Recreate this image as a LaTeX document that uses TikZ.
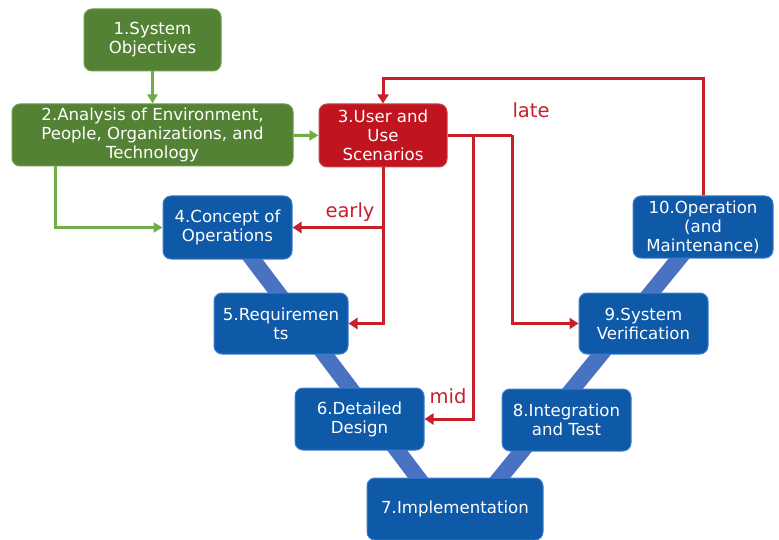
\documentclass[tikz,border=0pt]{standalone}
\usepackage{fontspec}
\setmainfont{DejaVu Sans}
\usetikzlibrary{arrows.meta,backgrounds,calc}
\definecolor{nblue}{HTML}{0F59A9}
\definecolor{nblueb}{HTML}{3C7FD0}
\definecolor{band}{HTML}{4A72C2}
\definecolor{ngreen}{HTML}{548235}
\definecolor{ngreenb}{HTML}{6E9E48}
\definecolor{lgreen}{HTML}{70AD47}
\definecolor{nred}{HTML}{C0151F}
\definecolor{lred}{HTML}{C8202A}
\tikzset{
  box/.style={rounded corners=8pt, align=center, text=white, inner sep=0pt,
    font=\fontsize{16.6}{19}\selectfont, line width=1pt},
  bluebox/.style={box, fill=nblue, draw=nblueb},
  greenbox/.style={box, fill=ngreen, draw=ngreenb},
  redbox/.style={box, fill=nred, draw=nred!80!white},
  redarrow/.style={draw=lred, line width=3pt, -{Triangle[length=9pt,width=11pt]}},
  redline/.style={draw=lred, line width=3pt},
  greenarrow/.style={draw=lgreen, line width=3pt, -{Triangle[length=9pt,width=10pt]}},
  bandline/.style={draw=band, line width=16pt},
  lbl/.style={text=lred, font=\fontsize{19.5}{22}\selectfont, inner sep=0pt}
}
\begin{document}
\begin{tikzpicture}[x=1pt,y=-1pt]
\useasboundingbox (0,0) rectangle (779,540);

\node[greenbox, minimum width=137pt, minimum height=62pt] (n1) at (152.5,40) {1.System\\Objectives};
\node[greenbox, minimum width=281pt, minimum height=62pt] (n2) at (152.5,135) {2.Analysis of Environment,\\People, Organizations, and\\Technology};
\node[redbox, minimum width=128pt, minimum height=63pt] (n3) at (383,135.5) {3.User and\\Use\\Scenarios};
\node[bluebox, minimum width=129pt, minimum height=63pt] (n4) at (227.5,227.5) {4.Concept of\\Operations};
\node[bluebox, minimum width=134pt, minimum height=61pt] (n5) at (281,323.5) {5.Requiremen\\ts};
\node[bluebox, minimum width=129pt, minimum height=62pt] (n6) at (359.5,419) {6.Detailed\\Design};
\node[bluebox, minimum width=176pt, minimum height=62pt] (n7) at (455,509) {7.Implementation};
\node[bluebox, minimum width=129pt, minimum height=62pt] (n8) at (566.5,420) {8.Integration\\and Test};
\node[bluebox, minimum width=129pt, minimum height=61pt] (n9) at (643.5,323.5) {9.System\\Verification};
\node[bluebox, minimum width=140pt, minimum height=62pt] (n10) at (703,227) {10.Operation\\(and\\Maintenance)};

\begin{scope}[on background layer]
  \fill[white] (0,0) rectangle (779,540);
  \draw[bandline] ($(n4.center)+(10,12)$) -- ($(n7.center)+(-24,-14)$);
  \draw[bandline] ($(n7.center)+(31,-14)$) -- ($(n10.center)+(-13,18)$);
\end{scope}

% green connectors
\coordinate (gx) at (55,0);
\draw[greenarrow] (n1) -- (n2);
\draw[greenarrow] (n2) -- (n3);
\draw[greenarrow] (n2.south -| gx) |- (n4.west);

% red connectors
\coordinate (lt) at (0,79);
\coordinate (b1) at (473,0);
\coordinate (b2) at (512,0);
\draw[redarrow] (n10.north) -- (n10.north |- lt) -| (n3.north);
\draw[redarrow] (n3.south) |- (n5.east);
\draw[redarrow] (n3.south |- n4.east) -- (n4.east);
\draw[redline] (n3.east) -- (n3.east -| b2);
\draw[redarrow] (n3.east -| b2) |- (n9.west);
\draw[redarrow] (n3.east -| b1) |- (n6.east);

\node[lbl] (late) at (531,110) {late};
\node[lbl] (early) at (350,212) {early};
\node[lbl] (mid) at (448,396) {mid};
\end{tikzpicture}
\end{document}
